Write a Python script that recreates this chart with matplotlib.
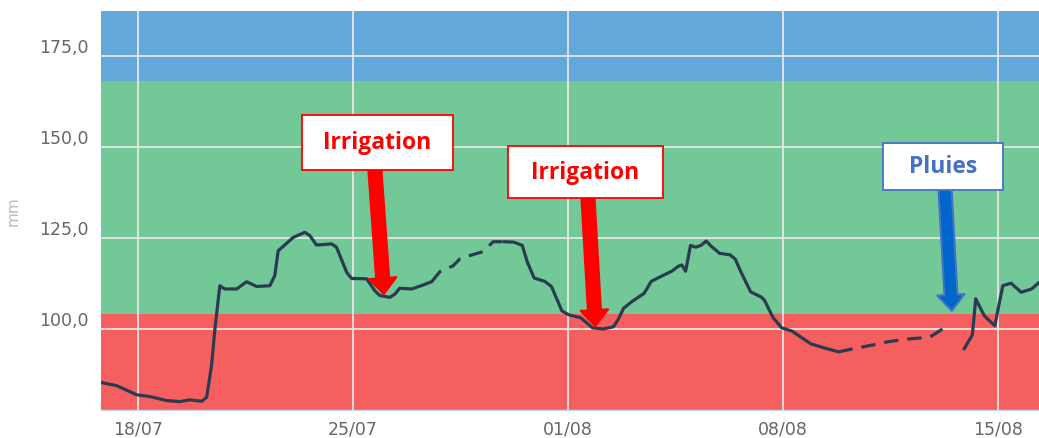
import matplotlib
matplotlib.use('Agg')
import matplotlib.pyplot as plt
from matplotlib.patches import Rectangle
from matplotlib.transforms import ScaledTranslation

# days counted from 18/07
tick_days = [0, 7, 14, 21, 28]
tick_labels = ['18/07', '25/07', '01/08', '08/08', '15/08']
y_ticks = [100, 125, 150, 175]

# soil water reserve (mm)
solid1_days = [-1.22, -0.70, -0.05, 0.38, 0.93, 1.36, 1.68, 2.07, 2.23, 2.39, 2.50, 2.66,
               2.82, 3.21, 3.53, 3.86, 4.29, 4.45, 4.56, 5.05, 5.43, 5.59, 5.81, 6.30,
               6.46, 6.79, 6.95, 7.44, 7.71, 7.87, 8.20, 8.36, 8.52, 8.91, 9.28, 9.56]
solid1_mm = [85.3, 84.4, 81.9, 81.4, 80.3, 80.0, 80.5, 80.1, 81.2, 89.9, 100.0, 111.9,
             111.0, 111.0, 113.0, 111.7, 111.9, 114.7, 121.5, 125.2, 126.6, 125.7, 123.1, 123.4,
             122.5, 115.6, 113.9, 113.8, 110.5, 109.2, 108.7, 109.6, 111.2, 111.0, 112.1, 113.0]

dash1_days = [9.56, 9.83, 10.26, 10.48, 10.80, 11.24, 11.56, 11.90]
dash1_mm = [113.0, 115.8, 117.4, 119.3, 120.2, 121.3, 124.0, 124.0]

solid2_days = [11.90, 12.23, 12.51, 12.68, 12.90, 13.24, 13.46, 13.80, 14.02, 14.41, 14.80,
               15.14, 15.48, 15.64, 15.81, 16.09, 16.48, 16.71, 17.04, 17.38, 17.60, 17.71,
               17.83, 17.99, 18.16, 18.33, 18.50, 18.66, 18.94, 19.28, 19.45, 19.62, 19.95,
               20.29, 20.40, 20.68, 20.96, 21.30, 21.63, 21.91, 22.42, 22.81]
solid2_mm = [124.0, 123.9, 123.0, 118.3, 114.0, 113.1, 111.7, 105.0, 103.9, 103.1, 100.3,
             100.0, 100.6, 102.7, 105.7, 107.6, 109.8, 113.1, 114.5, 115.9, 117.3, 117.6,
             115.9, 123.0, 122.5, 123.0, 124.2, 122.8, 120.8, 120.4, 119.2, 115.9, 110.2,
             108.8, 107.9, 103.1, 100.3, 99.4, 97.5, 95.9, 94.6, 93.7]

dash2_days = [22.81, 23.31, 23.93, 24.43, 24.99, 25.77, 26.33]
dash2_mm = [93.7, 94.6, 95.6, 96.5, 97.2, 97.7, 100.7]

solid3_days = [26.90, 27.17, 27.28, 27.56, 27.90, 28.16, 28.43, 28.76, 29.10, 29.34]
solid3_mm = [94.5, 98.4, 108.3, 103.6, 100.9, 111.9, 112.6, 110.1, 111.0, 112.8]

# comfort zones
band_red = (77.7, 104.1)
band_green = (104.1, 168.3)
band_blue = (168.3, 187.5)

# notes: box (x0, x1, y0, y1), arrow start, arrow tip
notes = [
    ('Irrigation', (5.32, 10.24, 143.8, 158.9), (7.71, 143.8), (8.00, 109.6)),
    ('Irrigation', (12.03, 17.10, 136.1, 150.4), (14.65, 136.1), (14.89, 100.8)),
    ('Pluies', (24.25, 28.18, 138.3, 151.2), (26.28, 138.3), (26.50, 105.0)),
]

fig = plt.figure(figsize=(10.39, 4.39), dpi=100)
ax = fig.add_axes([100.7 / 1039, 28 / 439, 938.3 / 1039, 399 / 439])

ax.axhspan(*band_red, color='#f65f5f', lw=0, zorder=0)
ax.axhspan(*band_green, color='#72c997', lw=0, zorder=0)
ax.axhspan(*band_blue, color='#62a8da', lw=0, zorder=0)

line_color = '#2b3b4f'
ax.plot(solid1_days, solid1_mm, color=line_color, lw=2.3, zorder=3, solid_capstyle='round')
ax.plot(dash1_days, dash1_mm, color=line_color, lw=2.3, zorder=3, linestyle=(0, (4.5, 2.8)))
ax.plot(solid2_days, solid2_mm, color=line_color, lw=2.3, zorder=3, solid_capstyle='round')
ax.plot(dash2_days, dash2_mm, color=line_color, lw=2.3, zorder=3, linestyle=(0, (4.5, 2.8)))
ax.plot(solid3_days, solid3_mm, color=line_color, lw=2.3, zorder=3, solid_capstyle='round')

ax.set_xlim(-1.22, 29.34)
ax.set_ylim(band_red[0], band_blue[1])
ax.set_xticks(tick_days)
ax.set_xticklabels(tick_labels)
ax.set_yticks(y_ticks)
ax.set_yticklabels([f'{v:.1f}'.replace('.', ',') for v in y_ticks])

ax.set_axisbelow(True)
ax.grid(True, color='#e6e6e6', lw=1.3)
for s in ['top', 'right', 'left']:
    ax.spines[s].set_visible(False)
ax.spines['bottom'].set_color('#ccd6eb')
ax.spines['bottom'].set_linewidth(1)

ax.tick_params(axis='both', length=0, labelsize=12.5, colors='#666666')
ax.tick_params(axis='y', pad=9)
ax.tick_params(axis='x', pad=7)
offset = ScaledTranslation(0, 11 / 100, fig.dpi_scale_trans)
for lab in ax.get_yticklabels():
    lab.set_transform(lab.get_transform() + offset)

ax.set_ylabel('mm', color='#bbbbbb', fontsize=11)
ax.yaxis.set_label_coords(-0.085, 0.5)

for text, (x0, x1, y0, y1), start, tip in notes:
    if text == 'Pluies':
        edge, txt_col, face = '#4472c4', '#4472c4', '#0066cc'
    else:
        edge, txt_col, face = '#ff0000', '#ff0000', '#ff0000'
    ax.annotate('', xy=tip, xytext=start,
                arrowprops=dict(width=9.4, headwidth=19.7, headlength=11.5, shrink=0,
                                facecolor=face, edgecolor=edge, lw=1.5),
                zorder=5)
    ax.add_patch(Rectangle((x0, y0), x1 - x0, y1 - y0, facecolor='white',
                           edgecolor=edge, lw=1.3, zorder=6))
    ax.text((x0 + x1) / 2, (y0 + y1) / 2, text, color=txt_col, fontsize=16.5,
            fontweight='bold', family='Open Sans', ha='center', va='center', zorder=7)

fig.savefig('out.png', dpi=100)
